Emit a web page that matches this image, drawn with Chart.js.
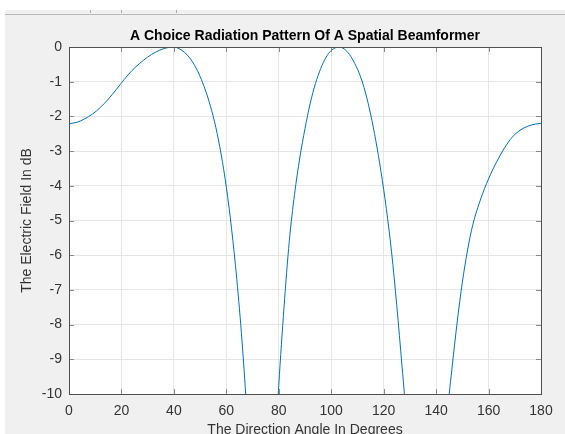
<!DOCTYPE html>
<html>
<head>
<meta charset="utf-8">
<script src="https://cdn.jsdelivr.net/npm/chart.js@4"></script>
<style>
  body { margin: 0; background: #fff; }
  #wrap { position: relative; width: 565px; height: 434px; overflow: hidden; }
  #bg { position: absolute; left: 5px; top: 10px; right: 0; bottom: 0; background: #f0f0f0; }
  #bar { position: absolute; left: 5px; top: 14px; right: 0; height: 1px; background: #b9b9b9; }
  .mk { position: absolute; top: 10px; width: 1px; height: 3px; background: #a8a8a8; }
  canvas { position: absolute; left: 0; top: 0; }
</style>
</head>
<body>
<div id="wrap">
  <div id="bg"></div>
  <div id="bar"></div>
  <div class="mk" style="left:90px"></div>
  <div class="mk" style="left:121px"></div>
  <div class="mk" style="left:176px"></div>
  <canvas id="beamChart" width="565" height="434"></canvas>
</div>
<script>
// direction angle (degrees) and field (dB)
const angles = [0, 3, 6, 9, 12, 15, 18, 21, 24, 27, 30, 33, 36, 39, 40, 42, 44, 46, 48, 50,
    52, 54, 56, 58, 60, 62, 64, 66, 68, 70, 74, 78, 79, 80, 82, 84, 86, 88, 90, 92,
    94, 96, 98, 100, 103, 105, 107, 109, 111, 113, 115, 117, 119, 121, 123, 125, 127, 128, 129, 131,
    136, 141, 143, 144, 145, 146, 148, 150, 152, 154, 157, 160, 163, 166, 169, 172, 175, 178, 180];
const fieldDb = [-2.21, -2.17, -2.07, -1.93, -1.74, -1.50, -1.23, -0.94, -0.68, -0.47, -0.29, -0.15, -0.05, -0.003, 0, -0.05, -0.15, -0.31, -0.54, -0.85,
    -1.24, -1.72, -2.32, -3.08, -4.04, -5.24, -6.70, -8.50, -10.8, -14.0, -30, -13.0, -11.1, -9.75, -7.5, -5.6, -4.25, -3.2, -2.35, -1.62,
    -1.05, -0.62, -0.30, -0.10, 0, -0.06, -0.22, -0.48, -0.82, -1.30, -1.93, -2.70, -3.60, -4.65, -5.90, -7.45, -9.20, -10.1, -11.3, -14.0,
    -30, -15.0, -12.0, -10.9, -10.0, -9.30, -7.95, -6.78, -5.85, -5.12, -4.38, -3.80, -3.32, -2.92, -2.60, -2.40, -2.28, -2.22, -2.20];
const xTicks = [0, 20, 40, 60, 80, 100, 120, 140, 160, 180];
const yTicks = [0, -1, -2, -3, -4, -5, -6, -7, -8, -9, -10];

const fontFamily = "'Liberation Sans', Arial, Helvetica, sans-serif";

// white plot area, then a box with short inward ticks on all four sides, like matlab
const boxPlugin = {
    id: 'box',
    beforeDraw(chart) {
        const a = chart.chartArea;
        chart.ctx.save();
        chart.ctx.fillStyle = '#fff';
        chart.ctx.fillRect(a.left, a.top, a.right - a.left, a.bottom - a.top);
        chart.ctx.restore();
    },
    afterDraw(chart) {
        const ctx = chart.ctx;
        const a = chart.chartArea;
        const xs = chart.scales.x;
        const ys = chart.scales.y;
        ctx.save();
        ctx.lineWidth = 1;
        ctx.strokeStyle = '#8a8a8a';
        ctx.beginPath();
        xTicks.forEach(v => {
            const px = Math.round(xs.getPixelForValue(v)) + 0.5;
            ctx.moveTo(px, a.bottom); ctx.lineTo(px, a.bottom - 5);
            ctx.moveTo(px, a.top); ctx.lineTo(px, a.top + 5);
        });
        yTicks.forEach(v => {
            const py = Math.round(ys.getPixelForValue(v)) + 0.5;
            ctx.moveTo(a.left, py); ctx.lineTo(a.left + 5, py);
            ctx.moveTo(a.right, py); ctx.lineTo(a.right - 5, py);
        });
        ctx.stroke();
        ctx.strokeStyle = '#505050';
        ctx.strokeRect(Math.round(a.left) + 0.5, Math.round(a.top) + 0.5,
            Math.round(a.right - a.left), Math.round(a.bottom - a.top));
        ctx.restore();
    }
};

const ctx = document.getElementById('beamChart').getContext('2d');
new Chart(ctx, {
    type: 'line',
    data: {
        datasets: [{
            label: 'Field',
            data: angles.map((a, i) => ({ x: a, y: fieldDb[i] })),
            borderColor: '#0072bd',
            borderWidth: 1,
            pointRadius: 0,
            cubicInterpolationMode: 'monotone',
            fill: false
        }]
    },
    options: {
        responsive: false,
        animation: false,
        devicePixelRatio: 1,
        layout: { padding: { left: 0, right: 24, top: 0, bottom: 0 } },
        plugins: {
            legend: { display: false },
            tooltip: { enabled: false }
        },
        scales: {
            x: {
                type: 'linear',
                min: 0,
                max: 180,
                afterBuildTicks: s => { s.ticks = xTicks.map(v => ({ value: v })); },
                afterFit: s => { s.height = 40; },
                grid: { color: '#e6e6e6', drawTicks: false },
                border: { display: false },
                ticks: { color: '#333', padding: 9, font: { family: fontFamily, size: 14 } },
                title: {
                    display: true,
                    text: 'The Direction Angle In Degrees',
                    color: '#333',
                    font: { family: fontFamily, size: 14, lineHeight: 0.5 },
                    padding: { top: 0, bottom: 0 }
                }
            },
            // top axis only carries the chart title, centred over the plot box
            xTop: {
                type: 'linear',
                position: 'top',
                min: 0,
                max: 180,
                afterFit: s => { s.height = 47; },
                grid: { display: false },
                border: { display: false },
                ticks: { display: false },
                title: {
                    display: true,
                    text: 'A Choice Radiation Pattern Of A Spatial Beamformer',
                    color: '#000',
                    font: { family: fontFamily, size: 14, weight: 'bold' },
                    padding: { top: 27.8, bottom: 0 }
                }
            },
            y: {
                min: -10,
                max: 0,
                afterBuildTicks: s => { s.ticks = yTicks.map(v => ({ value: v })); },
                afterFit: s => { s.width = 69; },
                grid: { color: '#e6e6e6', drawTicks: false },
                border: { display: false },
                ticks: { color: '#333', padding: 7, font: { family: fontFamily, size: 14 } },
                title: {
                    display: true,
                    text: 'The Electric Field In dB',
                    color: '#333',
                    font: { family: fontFamily, size: 14 },
                    padding: { top: 18.6, bottom: 0 }
                }
            }
        }
    },
    plugins: [boxPlugin]
});
</script>
</body>
</html>
